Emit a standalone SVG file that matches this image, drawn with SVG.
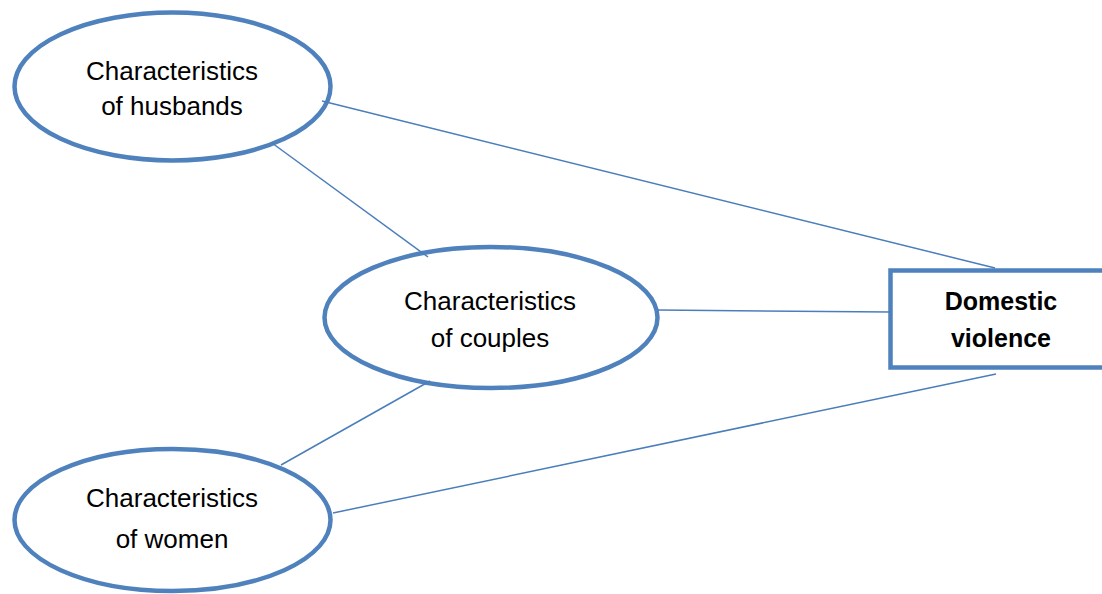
<svg xmlns="http://www.w3.org/2000/svg" width="1102" height="594" viewBox="0 0 1102 594">
<style>
.node{fill:#fff;stroke:#4f81bd;stroke-width:4.5}
.lbl{font-family:"Liberation Sans",Arial,sans-serif;font-size:26px;fill:#000;text-anchor:middle}
.b{font-weight:bold;font-size:25px}
.conn line{stroke:#4a7ebb;stroke-width:1.5}
</style>
<rect width="1102" height="594" fill="#fff"/>
<g id="husbands">
<ellipse class="node" cx="172.5" cy="86.5" rx="158" ry="74"/>
<text class="lbl" x="172" y="80">Characteristics</text>
<text class="lbl" x="172" y="115">of husbands</text>
</g>
<g id="couples">
<ellipse class="node" cx="491" cy="317.5" rx="166.5" ry="70.5"/>
<text class="lbl" x="490" y="310">Characteristics</text>
<text class="lbl" x="490" y="347">of couples</text>
</g>
<g id="women">
<ellipse class="node" cx="172.5" cy="520" rx="158" ry="71"/>
<text class="lbl" x="172" y="507">Characteristics</text>
<text class="lbl" x="172" y="548">of women</text>
</g>
<g id="domestic-violence">
<rect class="node" x="890.5" y="270.5" width="220" height="97" stroke-width="5"/>
<text class="lbl b" x="1001" y="310">Domestic</text>
<text class="lbl b" x="1001" y="347">violence</text>
</g>
<g id="connectors" class="conn">
<line x1="322" y1="101" x2="995" y2="268"/>
<line x1="272" y1="143" x2="428" y2="257"/>
<line x1="658" y1="310" x2="890" y2="312"/>
<line x1="281" y1="465" x2="430" y2="381"/>
<line x1="333" y1="513" x2="996" y2="374"/>
</g>
</svg>
